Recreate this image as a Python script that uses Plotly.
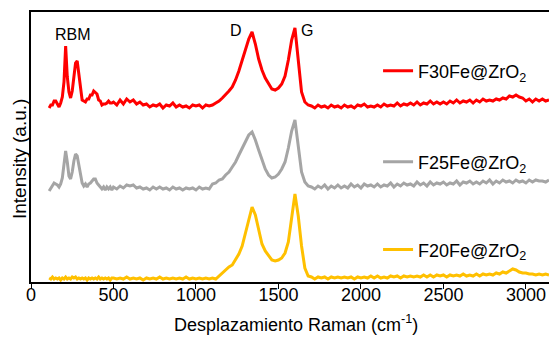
import plotly.graph_objects as go

# Raman shift grid (cm-1): fine below 500, coarser above
shift = list(range(110, 500, 10)) + list(range(500, 3141, 20))

# Intensities (a.u., stacked offsets included)
f30_low = [174, 177, 177, 181, 181, 178, 175, 179, 185, 200,
           236, 205, 190, 184, 191, 205, 219, 221, 207, 192,
           182, 181, 180, 183, 183, 187, 187, 191, 189, 188,
           182, 181, 177, 178, 178, 179, 181, 179, 179]
f30_high = [180, 177, 182, 178, 183, 180, 182, 178, 180, 177,
            178, 175, 177, 176, 178, 174, 177, 176, 179, 175,
            177, 175, 176, 174, 177, 176, 177, 174, 177, 176,
            177, 179, 181, 184, 187, 191, 195, 202, 211, 222,
            233, 243, 250, 238, 223, 212, 204, 198, 193, 192,
            194, 198, 206, 222, 242, 254, 224, 190, 180, 177,
            176, 174, 177, 175, 176, 174, 177, 175, 176, 174,
            177, 175, 176, 174, 177, 176, 178, 175, 176, 175,
            177, 175, 178, 176, 177, 176, 179, 176, 178, 177,
            179, 177, 180, 177, 179, 178, 181, 178, 180, 178,
            180, 178, 181, 179, 182, 179, 181, 180, 182, 179,
            182, 180, 183, 181, 182, 181, 183, 182, 184, 183,
            186, 185, 187, 185, 184, 181, 183, 180, 183, 181,
            183, 181, 182]

f25_low = [91, 94, 96, 99, 98, 97, 95, 98, 104, 120,
           131, 120, 106, 103, 110, 121, 128, 126, 116, 105,
           99, 96, 98, 95, 98, 99, 101, 103, 103, 99,
           97, 95, 93, 95, 92, 95, 93, 95, 92]
f25_high = [95, 93, 96, 94, 97, 96, 97, 94, 95, 93,
            94, 92, 95, 93, 95, 93, 94, 92, 95, 93,
            94, 92, 94, 93, 94, 92, 95, 93, 94, 93,
            98, 99, 102, 103, 107, 110, 115, 120, 127, 134,
            141, 147, 150, 142, 132, 123, 113, 107, 104, 105,
            108, 113, 120, 134, 151, 162, 136, 110, 100, 96,
            95, 93, 96, 94, 97, 93, 96, 94, 97, 94,
            96, 94, 98, 95, 97, 94, 98, 96, 97, 95,
            98, 95, 97, 96, 99, 95, 98, 96, 99, 97,
            98, 96, 100, 97, 99, 96, 100, 97, 99, 98,
            100, 97, 99, 98, 101, 97, 100, 99, 101, 98,
            100, 98, 101, 99, 102, 98, 101, 99, 102, 100,
            101, 99, 102, 100, 101, 99, 102, 100, 102, 101,
            101, 100, 102]

f20_low = [4, 3, 5, 3, 4, 3, 4, 2, 4, 3,
           5, 3, 4, 3, 5, 4, 5, 3, 4, 3,
           4, 3, 4, 2, 4, 3, 4, 3, 4, 3,
           5, 3, 4, 3, 4, 3, 4, 2, 4]
f20_high = [4, 3, 4, 3, 5, 3, 4, 3, 4, 2,
            4, 3, 4, 3, 5, 3, 4, 3, 4, 3,
            4, 3, 5, 3, 4, 3, 4, 3, 4, 3,
            4, 3, 6, 10, 12, 15, 17, 22, 28, 36,
            50, 63, 75, 67, 52, 38, 31, 26, 22, 21,
            22, 24, 29, 40, 62, 88, 66, 36, 14, 6,
            5, 3, 5, 4, 5, 3, 5, 4, 5, 4,
            5, 4, 5, 3, 5, 4, 5, 4, 6, 4,
            6, 4, 5, 4, 6, 5, 6, 4, 6, 5,
            6, 5, 6, 5, 7, 5, 7, 5, 7, 6,
            7, 5, 7, 6, 7, 6, 8, 6, 7, 6,
            8, 6, 8, 7, 8, 7, 9, 8, 10, 9,
            11, 13, 12, 10, 9, 9, 8, 8, 7, 8,
            7, 8, 7]

series = [
    ("F30Fe@ZrO<sub>2</sub>", f30_low + f30_high, "#FF0000", "legend", 0.781),
    ("F25Fe@ZrO<sub>2</sub>", f25_low + f25_high, "#A5A5A5", "legend2", 0.444),
    ("F20Fe@ZrO<sub>2</sub>", f20_low + f20_high, "#FFC000", "legend3", 0.119),
]

FONT = "Arial, 'Liberation Sans', sans-serif"

fig = go.Figure()
for name, vals, color, leg, _ in series:
    fig.add_trace(go.Scatter(x=shift, y=vals, mode="lines", name=name,
                             line=dict(color=color, width=3), legend=leg))

legend_common = dict(x=0.67, xanchor="left", yanchor="middle",
                     bgcolor="rgba(0,0,0,0)", borderwidth=0,
                     font=dict(family=FONT, size=18, color="#000000"))
fig.update_layout(
    legend=dict(y=series[0][4], **legend_common),
    legend2=dict(y=series[1][4], **legend_common),
    legend3=dict(y=series[2][4], **legend_common),
)

peak_labels = ["RBM", "D", "G"]
peak_x = [253, 1240, 1673]
peak_y = [248, 252, 252]
for t, px, py in zip(peak_labels, peak_x, peak_y):
    fig.add_annotation(x=px, y=py, xref="x", yref="y", text=t, showarrow=False,
                       font=dict(family=FONT, size=16, color="#000000"))

fig.add_annotation(x=-0.021, y=0.456, xref="paper", yref="paper",
                   xanchor="center", yanchor="middle",
                   text="Intensity (a.u.)", textangle=-90, showarrow=False,
                   font=dict(family=FONT, size=19, color="#000000"))
fig.add_annotation(x=0.5116, y=-0.152, xref="paper", yref="paper",
                   xanchor="center", yanchor="middle",
                   text="Desplazamiento Raman (cm<sup>-1</sup>)", showarrow=False,
                   font=dict(family=FONT, size=18, color="#000000"))

fig.update_layout(
    width=549, height=342,
    margin=dict(l=31, r=0, t=12, b=60),
    paper_bgcolor="white", plot_bgcolor="white",
    showlegend=True,
    xaxis=dict(range=[0, 3140], tickmode="linear", tick0=0, dtick=500,
               showline=True, linecolor="black", linewidth=1.5, mirror=True,
               ticks="outside", ticklen=5, tickcolor="black",
               ticklabelstandoff=-9,
               showgrid=False, zeroline=False, automargin=False,
               tickfont=dict(family=FONT, size=18, color="#000000")),
    yaxis=dict(range=[0, 270], showline=True, linecolor="black", linewidth=1.5,
               showticklabels=False, ticks="", showgrid=False, zeroline=False,
               automargin=False),
)

fig.write_html("out.html",
               config={"displayModeBar": False},
               post_script="document.body.style.margin='0px';"
                           "document.body.style.overflow='hidden';")
